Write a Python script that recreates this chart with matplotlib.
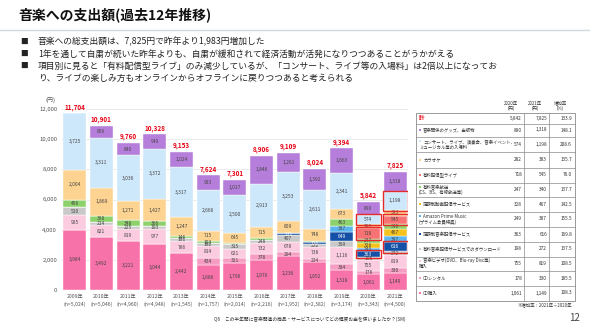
import matplotlib
matplotlib.use("Agg")
import matplotlib.pyplot as plt
from matplotlib.patches import Rectangle
import numpy as np

plt.rcParams["font.family"] = ["Noto Sans CJK JP", "DejaVu Sans"]

# --- data ---------------------------------------------------------------
years = ["2009年", "2010年", "2011年", "2012年", "2013年", "2014年", "2015年",
         "2016年", "2017年", "2018年", "2019年", "2020年", "2021年"]
n_resp = ["5,024", "5,046", "4,960", "4,948", "1,545", "1,757", "2,014",
          "2,216", "1,952", "2,382", "3,174", "3,343", "4,500"]
totals = [11704, 10901, 9760, 10328, 9153, 7624, 7301, 8906, 9109, 8024, 9394, 5842, 7825]

# stacked from bottom to top
cd_buy      = [3984, 3492, 3221, 3044, 2442, 1686, 1796, 1976, 2236, 1852, 1318, 1061, 1149]
cd_rent     = [0, 0, 0, 0, 0, 434, 321, 378, 294, 234, 384, 178, 330]
video       = [985, 821, 819, 977, 786, 814, 621, 732, 678, 738, 1116, 755, 819]
download    = [510, 214, 225, 193, 191, 192, 315, 248, 407, 232, 399, 198, 272]
sub_music   = [0, 0, 0, 0, 0, 0, 0, 0, 171, 120, 649, 363, 616]
amazon      = [0, 0, 0, 0, 0, 0, 0, 0, 0, 0, 387, 249, 387]
sub_video   = [0, 0, 0, 0, 0, 0, 0, 0, 0, 0, 0, 328, 467]
cable       = [496, 388, 348, 366, 146, 103, 86, 98, 0, 97, 463, 247, 340]
live_stream = [0, 0, 0, 0, 0, 0, 0, 0, 0, 0, 0, 718, 545]
karaoke     = [2004, 1869, 1271, 1427, 1247, 715, 645, 715, 809, 748, 673, 282, 383]
concert     = [3725, 3311, 3036, 3372, 3317, 2666, 2500, 2913, 3253, 2611, 2341, 574, 1198]
goods       = [0, 806, 840, 949, 1024, 983, 1017, 1846, 1261, 1392, 1663, 890, 1318]

series = [cd_buy, cd_rent, video, download, sub_music, amazon, sub_video,
          cable, live_stream, karaoke, concert, goods]
colors = ["#F872AA", "#F59DC2", "#FBCCDF", "#C9C9C9", "#1450A6", "#5DB5EE",
          "#F4C21B", "#8DD16A", "#F77272", "#FCD391", "#CDE7FB", "#B57EDA"]
highlight = [4, 8, 10]  # boxed in 2020 and 2021

table_labels = [
    ("音楽関係のグッズ、出版物", None),
    ("コンサート、ライブ、演奏会、音楽イベント、", "ミュージカル等の入場料"),
    ("カラオケ", None),
    ("有料配信型ライブ", None),
    ("有料音楽放送", "(CS、BS、有線放送等)"),
    ("定額制動画配信サービス", None),
    ("Amazon Prime Music", "(プライム会員特典)"),
    ("定額制音楽配信サービス", None),
    ("有料音楽配信サービスでのダウンロード", None),
    ("音楽ビデオ(DVD、Blu-ray Disc等)", "購入"),
    ("CDレンタル", None),
    ("CD購入", None),
]
rates = ["133.9", "148.1", "208.6", "135.7", "76.0", "137.7", "142.5",
         "155.5", "169.8", "137.5", "108.5", "185.5", "108.3"]


def fmt(v):
    return f"{v:,}"


fig = plt.figure(figsize=(5.9, 3.31), dpi=100)
W, H = 590, 331

# --- bar chart -----------------------------------------------------------
ax_l, ax_r, y0, y12 = 61.3, 408.4, 290, 109
px_per = (y0 - y12) / 12000
ymax = 13000
ax = fig.add_axes([ax_l / W, (H - y0) / H, (ax_r - ax_l) / W, ymax * px_per / H])
x = np.arange(len(years))
bottom = np.zeros(len(years))
for k, (vals, c) in enumerate(zip(series, colors)):
    vals = np.array(vals, dtype=float)
    ax.bar(x, vals, 0.86, bottom=bottom, color=c, edgecolor="white", linewidth=0.3, zorder=2)
    for i, v in enumerate(vals):
        if v >= 100:
            ax.text(i, bottom[i] + v / 2, fmt(int(v)), ha="center", va="center",
                    fontsize=3.5, color="white" if k == 4 else "#444444", zorder=4)
        if k in highlight and i >= 11:
            pad = 90
            ax.add_patch(Rectangle((i - 0.47, bottom[i] - pad), 0.94, v + 2 * pad,
                                   fill=False, edgecolor="#E52A2A", lw=1.0, zorder=5))
    bottom += vals

for i, t in enumerate(totals):
    ax.text(i, bottom[i] + 180, fmt(t), ha="center", va="bottom", fontsize=4.6,
            color="#E60012", fontweight="bold", zorder=4)

ax.set_xlim(-0.5, len(years) - 0.5)
ax.set_ylim(0, ymax)
ax.set_yticks(range(0, 12001, 2000))
ax.set_yticklabels([fmt(v) for v in range(0, 12001, 2000)], fontsize=4.3, color="#555555")
ax.set_xticks(x)
ax.set_xticklabels([f"{y}\n(n={n})" for y, n in zip(years, n_resp)],
                   fontsize=3.7, color="#555555", linespacing=1.6)
ax.tick_params(length=0, pad=3)
ax.grid(axis="y", color="#E3E3E3", lw=0.5, zorder=0)
for s in ax.spines.values():
    s.set_visible(False)
ax.axhline(0, color="#BBBBBB", lw=0.5, zorder=1)

# --- overlay in pixel coordinates ----------------------------------------
ov = fig.add_axes([0, 0, 1, 1], facecolor="none")
ov.set_xlim(0, W)
ov.set_ylim(H, 0)
ov.axis("off")

ov.text(18, 15, "音楽への支出額(過去12年推移)", fontsize=10, fontweight="bold",
        va="center", ha="left", color="#111111")
ov.plot([0, W], [30, 30], color="#CFDADC", lw=1.0)

bullets = [
    (42, "音楽への総支出額は、7,825円で昨年より1,983円増加した", True),
    (54, "1年を通して自粛が続いた昨年よりも、自粛が緩和されて経済活動が活発になりつつあることがうかがえる", True),
    (66, "項目別に見ると「有料配信型ライブ」のみ減少しているが、「コンサート、ライブ等の入場料」は2倍以上になってお", True),
    (78, "り、ライブの楽しみ方もオンラインからオフラインに戻りつつあると考えられる", False),
]
for yb, txt, mark in bullets:
    if mark:
        ov.text(20, yb, "■", fontsize=5.5, va="center", ha="left", color="#222222")
    ov.text(38, yb, txt, fontsize=6.3, va="center", ha="left", color="#222222")

ov.text(50, 100, "(円)", fontsize=4.3, ha="center", va="center", color="#555555")
ov.text(214, 319, "Q6　この半年間に音楽関連の商品・サービスについてどの程度お金を使いましたか？(SM)",
        fontsize=3.4, ha="left", va="center", color="#333333")
ov.text(580, 318, "12", fontsize=7, ha="right", va="center", color="#444444")

# --- table -----------------------------------------------------------------
tl, tr = 416, 575
col_lines = [524, 549]
col_right = [522, 547, 572]
bounds = [113, 123.5, 136.5, 152, 167.5, 182.5, 197, 211.5, 226.5, 241.5, 256.5, 271, 285.5, 300.5]
for hx, lab in zip([511, 535, 560], ["2020年\n(円)", "2021年\n(円)", "増加率\n(%)"]):
    ov.text(hx, 106, lab, fontsize=3.2, ha="center", va="center", color="#333333",
            linespacing=1.1)
ov.add_patch(Rectangle((tl, bounds[0]), tr - tl, bounds[-1] - bounds[0],
                       fill=False, edgecolor="#8A8A8A", lw=0.6))
for b in bounds[1:-1]:
    ov.plot([tl, tr], [b, b], color="#8A8A8A", lw=0.5)
for cx in col_lines:
    ov.plot([cx, cx], [bounds[0], bounds[-1]], color="#8A8A8A", lw=0.5)

row_cat = [11, 10, 9, 8, 7, 6, 5, 4, 3, 2, 1, 0]  # table order -> series index
for r in range(len(bounds) - 1):
    yc = (bounds[r] + bounds[r + 1]) / 2
    if r == 0:
        ov.text(419, yc, "計", fontsize=4, color="#E60012", fontweight="bold",
                ha="left", va="center")
        vals = [fmt(totals[-2]), fmt(totals[-1]), rates[0]]
    else:
        k = row_cat[r - 1]
        l1, l2 = table_labels[r - 1]
        ly = yc if l2 is None else yc - 3
        ov.add_patch(Rectangle((419, ly - 1.1), 2.2, 2.2, color=colors[k], lw=0))
        ov.text(423, ly, l1, fontsize=3.2, color="#333333", ha="left", va="center")
        if l2 is not None:
            ov.text(419, yc + 3, l2, fontsize=3.2, color="#333333", ha="left", va="center")
        vals = [fmt(series[k][-2]), fmt(series[k][-1]), rates[r]]
    for cr, v in zip(col_right, vals):
        ov.text(cr, yc, v, fontsize=3.4, color="#333333", ha="right", va="center")

ov.text(572, 306, "※増加率：2021年÷2020年", fontsize=3.2, ha="right", va="center",
        color="#333333")

fig.savefig("out.png", dpi=100)
